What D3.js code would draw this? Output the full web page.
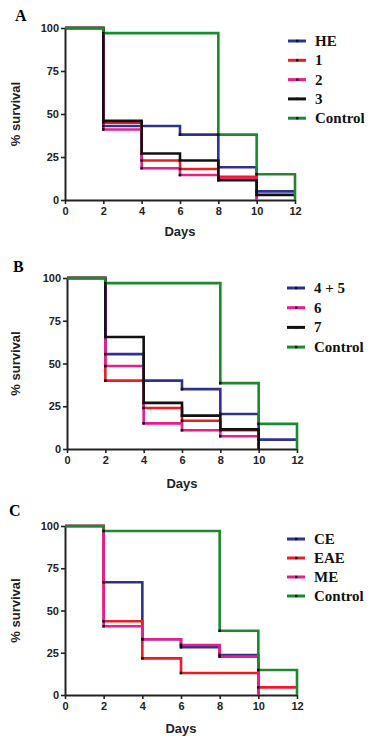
<!DOCTYPE html>
<html>
<head>
<meta charset="utf-8">
<script src="https://cdn.jsdelivr.net/npm/d3@7"></script>
<style>
  body { margin: 0; background: #fff; }
  svg { display: block; }
  .tick text { font-family: "Liberation Sans", Arial, sans-serif; font-weight: bold; font-size: 11px; fill: #222; }
</style>
</head>
<body>
<svg id="chart" width="373" height="742"></svg>
<script>
// days at which the survival steps happen
const days = [0, 2, 4, 6, 8, 10, 12]
const yTicks = [0, 25, 50, 75, 100]

// panel A
const aHE = [100, 43, 43, 38, 19, 5, 5]
const a1 = [100, 45, 23, 18, 13.5, 0, null]
const a2 = [100, 41, 18.5, 14.5, 12.5, 0, null]
const a3 = [100, 46, 27, 23, 11.5, 3, 3]
const aControl = [100, 97, 97, 97, 38, 15, 0]

// panel B (red curve has no legend entry in the original)
const bRed = [100, 40, 24, 16.5, 11, 0, null]
const b45 = [100, 55.5, 40, 35, 20.5, 5.5, 5.5]
const b6 = [100, 48.5, 15, 11, 7.5, 0, null]
const b7 = [100, 65.5, 27, 19.5, 11.5, 0, null]
const bControl = [100, 97, 97, 97, 38.5, 14.7, 0]

// panel C
const cCE = [100, 66.7, 33, 28.3, 23.7, 0, null]
const cEAE = [100, 43.6, 21.7, 13, 13, 4.5, 4.5]
const cME = [100, 40.7, 33, 29.6, 22.7, 0, null]
const cControl = [100, 97, 97, 97, 38, 14.8, 0]

const colors = { blue: '#2e3192', red: '#ed1c24', pink: '#ec1c8c', black: '#111111', green: '#1b8a2e' }

const panels = [
  {
    letter: 'A', lx: 15, ly: 21,
    x0: 65, x1: 295, yTop: 28, yBot: 200, daysY: 236,
    legX: 288, legY: 41, legStep: 19.3,
    series: [
      { name: 'HE', color: colors.blue, values: aHE },
      { name: '1', color: colors.red, values: a1 },
      { name: '2', color: colors.pink, values: a2 },
      { name: '3', color: colors.black, values: a3 },
      { name: 'Control', color: colors.green, values: aControl }
    ],
    legend: ['HE', '1', '2', '3', 'Control']
  },
  {
    letter: 'B', lx: 13, ly: 272,
    x0: 67, x1: 297, yTop: 278, yBot: 449, daysY: 488,
    legX: 287, legY: 288, legStep: 19.7,
    series: [
      { name: '', color: colors.red, values: bRed },
      { name: '4 + 5', color: colors.blue, values: b45 },
      { name: '6', color: colors.pink, values: b6 },
      { name: '7', color: colors.black, values: b7 },
      { name: 'Control', color: colors.green, values: bControl }
    ],
    legend: ['4 + 5', '6', '7', 'Control']
  },
  {
    letter: 'C', lx: 9, ly: 516,
    x0: 65, x1: 297, yTop: 526, yBot: 695, daysY: 733,
    legX: 287, legY: 539, legStep: 19,
    series: [
      { name: 'CE', color: colors.blue, values: cCE },
      { name: 'EAE', color: colors.red, values: cEAE },
      { name: 'ME', color: colors.pink, values: cME },
      { name: 'Control', color: colors.green, values: cControl }
    ],
    legend: ['CE', 'EAE', 'ME', 'Control']
  }
]

const svg = d3.select('#chart')

panels.forEach(p => {
  const g = svg.append('g')
  const x = d3.scaleLinear().domain([0, 12]).range([p.x0, p.x1])
  const y = d3.scaleLinear().domain([0, 100]).range([p.yBot, p.yTop])

  // panel letter
  g.append('text')
    .attr('x', p.lx).attr('y', p.ly)
    .attr('font-family', '"Liberation Serif", "Times New Roman", serif')
    .attr('font-weight', 'bold').attr('font-size', 16)
    .text(p.letter)

  // axes
  const xAxis = g.append('g')
    .attr('transform', `translate(0,${p.yBot})`)
    .call(d3.axisBottom(x).tickValues(days).tickSize(4).tickSizeOuter(0).tickPadding(3))
  const yAxis = g.append('g')
    .attr('transform', `translate(${p.x0},0)`)
    .call(d3.axisLeft(y).tickValues(yTicks).tickSize(4).tickSizeOuter(0).tickPadding(2))
  ;[xAxis, yAxis].forEach(a => {
    a.select('.domain').attr('stroke', '#222').attr('stroke-width', 2)
    a.selectAll('.tick line').attr('stroke', '#222').attr('stroke-width', 1.6)
  })

  g.append('text')
    .attr('x', (p.x0 + p.x1) / 2).attr('y', p.daysY)
    .attr('text-anchor', 'middle')
    .attr('font-family', '"Liberation Sans", Arial, sans-serif')
    .attr('font-weight', 'bold').attr('font-size', 13).attr('fill', '#222')
    .text('Days')

  g.append('text')
    .attr('transform', `translate(20,${(p.yTop + p.yBot) / 2}) rotate(-90)`)
    .attr('text-anchor', 'middle')
    .attr('font-family', '"Liberation Sans", Arial, sans-serif')
    .attr('font-weight', 'bold').attr('font-size', 13).attr('fill', '#222')
    .text('% survival')

  // survival curves
  const line = d3.line()
    .defined(d => d.v !== null)
    .x(d => x(d.day)).y(d => y(d.v))
    .curve(d3.curveStepAfter)

  p.series.forEach(s => {
    const pts = days.map((day, i) => ({ day, v: s.values[i] })).filter(d => d.v !== null)
    g.append('path')
      .datum(pts)
      .attr('fill', 'none')
      .attr('stroke', s.color)
      .attr('stroke-width', 2.6)
      .attr('d', line)
  })

  // small black marks where a curve steps down
  p.series.forEach(s => {
    const marks = []
    days.forEach((day, i) => {
      if (i > 0 && s.values[i] !== null && s.values[i] < s.values[i - 1] && s.values[i] > 0) {
        marks.push({ day, v: s.values[i] })
      }
    })
    g.selectAll(null).data(marks).join('rect')
      .attr('x', d => x(d.day) - 1.3).attr('y', d => y(d.v) - 1.3)
      .attr('width', 2.6).attr('height', 2.6)
      .attr('fill', '#111')
  })

  // legend
  p.legend.forEach((name, i) => {
    const s = p.series.find(d => d.name === name)
    const ly = p.legY + i * p.legStep
    g.append('line')
      .attr('x1', p.legX).attr('x2', p.legX + 18)
      .attr('y1', ly).attr('y2', ly)
      .attr('stroke', s.color).attr('stroke-width', 3)
    g.append('rect')
      .attr('x', p.legX + 8).attr('y', ly - 1.2)
      .attr('width', 2.4).attr('height', 2.4).attr('fill', '#111')
    g.append('text')
      .attr('x', p.legX + 27).attr('y', ly + 5)
      .attr('font-family', '"Liberation Serif", "Times New Roman", serif')
      .attr('font-weight', 'bold').attr('font-size', 15).attr('fill', '#111')
      .text(name)
  })
})
</script>
</body>
</html>
